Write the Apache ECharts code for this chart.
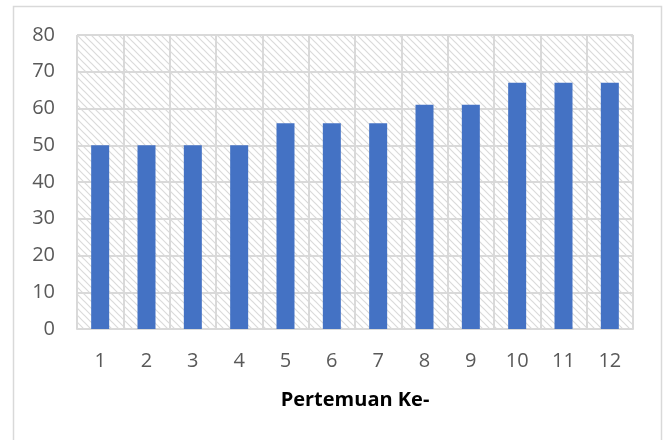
<!DOCTYPE html>
<html>
<head>
<meta charset="utf-8">
<script src="https://cdn.jsdelivr.net/npm/echarts@6/dist/echarts.min.js"></script>
<style>
  html, body { margin: 0; padding: 0; background: #fff; }
  #chart { width: 668px; height: 440px; }
</style>
</head>
<body>
<div id="chart"></div>
<script>
// Meeting numbers and scores per meeting
const categories = ['1', '2', '3', '4', '5', '6', '7', '8', '9', '10', '11', '12'];
const scores = [50, 50, 50, 50, 56, 56, 56, 61, 61, 67, 67, 67];
const axisTitle = 'Pertemuan Ke-';

// Diagonal hatch tile for the plot background
function hatchTile() {
  const size = 7;
  const c = document.createElement('canvas');
  c.width = size; c.height = size;
  const g = c.getContext('2d');
  g.fillStyle = '#ffffff';
  g.fillRect(0, 0, size, size);
  g.strokeStyle = '#dadada';
  g.lineWidth = 1.2;
  g.beginPath();
  g.moveTo(-2, -2); g.lineTo(size + 2, size + 2);
  g.moveTo(-2 - size, -2); g.lineTo(2, size + 2);
  g.moveTo(size - 2, -2); g.lineTo(2 * size + 2, size + 2);
  g.stroke();
  return c;
}

const chart = echarts.init(document.getElementById('chart'), null, { renderer: 'canvas' });
const gridColor = '#d9d9d9';
const font = '"Open Sans", "Liberation Sans", sans-serif';

chart.setOption({
  animation: false,
  graphic: [{
    type: 'rect',
    shape: { x: 13.5, y: 6.5, width: 648, height: 445 },
    style: { fill: 'none', stroke: gridColor, lineWidth: 1.5 },
    silent: true
  }],
  grid: {
    left: 77, right: 35, top: 35, bottom: 111,
    show: true,
    borderWidth: 0,
    backgroundColor: { image: hatchTile(), repeat: 'repeat' }
  },
  xAxis: {
    type: 'category',
    data: categories,
    name: axisTitle,
    nameLocation: 'middle',
    nameGap: 61,
    nameTextStyle: { fontFamily: font, fontSize: 20, fontWeight: 'bold', color: '#000' },
    axisLine: { show: true, lineStyle: { color: gridColor, width: 2 } },
    axisTick: { show: false },
    axisLabel: { fontFamily: font, fontSize: 20, color: '#595959', margin: 22 },
    splitLine: { show: true, lineStyle: { color: gridColor, width: 2 } }
  },
  yAxis: {
    type: 'value',
    min: 0, max: 80, interval: 10,
    axisLine: { show: false },
    axisTick: { show: false },
    axisLabel: { fontFamily: font, fontSize: 20, color: '#595959', margin: 22 },
    splitLine: { show: true, lineStyle: { color: gridColor, width: 2 } }
  },
  series: [{
    type: 'bar',
    data: scores,
    barWidth: 18,
    itemStyle: { color: '#4472c4' }
  }]
});
</script>
</body>
</html>
